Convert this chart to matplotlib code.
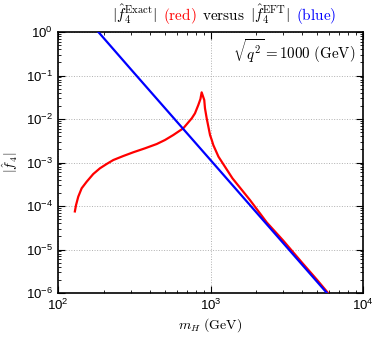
import numpy as np
import matplotlib
matplotlib.use("Agg")
import matplotlib.pyplot as plt
from matplotlib.offsetbox import TextArea, HPacker, AnchoredOffsetbox

plt.rcParams['font.family'] = ['Liberation Sans', 'DejaVu Sans']
plt.rcParams['mathtext.fontset'] = 'cm'

# Data
red_mH = [129, 131.3, 135.8, 142.9, 154.2, 170.3, 188.4, 208.4, 230.5, 268, 312, 372,
          444, 503, 570, 663, 754, 791, 832, 859, 875, 910, 920, 944, 993, 1019, 1043,
          1128, 1393, 1815, 2337, 3000, 4000, 5000, 5900]
red_f = [7.5e-5, 1.05e-4, 1.64e-4, 2.55e-4, 3.62e-4, 5.44e-4, 7.36e-4, 9.24e-4, 1.14e-3,
         1.41e-3, 1.72e-3, 2.12e-3, 2.66e-3, 3.29e-3, 4.28e-3, 6.11e-3, 1.04e-2, 1.35e-2,
         2.1e-2, 2.88e-2, 4.1e-2, 2.73e-2, 1.76e-2, 1.04e-2, 4.29e-3, 3.29e-3, 2.52e-3,
         1.36e-3, 4.33e-4, 1.37e-4, 4.2e-5, 1.6e-5, 4.9e-6, 2.0e-6, 1.0e-6]

blue_mH = [184, 300, 1000, 3000, 5800]
blue_f = [1.0, 1.40e-1, 1.14e-3, 1.40e-5, 1.0e-6]

fig = plt.figure(figsize=(3.74, 3.37), dpi=100)
ax = fig.add_axes([58/374, 1-293/337, 305/374, 261/337])

ax.plot(red_mH, red_f, color='#ff0000', lw=1.6, zorder=3, solid_joinstyle='round')
ax.plot(blue_mH, blue_f, color='#0000ff', lw=1.6, zorder=4)

ax.set_xscale('log')
ax.set_yscale('log')
ax.set_xlim(1e2, 1e4)
ax.set_ylim(1e-6, 1e0)

ax.grid(True, which='major', color='#b0b0b0', linestyle=':', lw=0.7)
ax.tick_params(which='both', direction='in', top=True, right=True, labelsize=9.5)
ax.tick_params(which='major', length=5, width=0.8)
ax.tick_params(which='minor', length=2.5, width=0.6)
ax.yaxis.set_major_locator(matplotlib.ticker.LogLocator(base=10, numticks=10))
ax.yaxis.set_minor_locator(matplotlib.ticker.LogLocator(base=10, subs=np.arange(2, 10), numticks=10))
for s in ax.spines.values():
    s.set_linewidth(1.2)

ax.set_xlabel(r"$m_H\ (\mathrm{GeV})$", fontsize=10, labelpad=2)
ax.set_ylabel(r"$|\hat{f}_4|$", fontsize=10, labelpad=4)

ax.text(0.975, 0.982, r"$\sqrt{q^2} = 1000\ (\mathrm{GeV})$", transform=ax.transAxes,
        ha='right', va='top', fontsize=10.8)

fs = 11
parts = [
    (r"$|\hat{f}_4^{\rm Exact}|$", 'black'),
    (r"$\mathrm{(red)}$", '#ff0000'),
    (r"$\mathrm{versus}$", 'black'),
    (r"$|\hat{f}_4^{\rm EFT}|$", 'black'),
    (r"$\mathrm{(blue)}$", '#0000ff'),
]
areas = [TextArea(t, textprops=dict(color=c, fontsize=fs)) for t, c in parts]
pack = HPacker(children=areas, align='baseline', pad=0, sep=4)
anch = AnchoredOffsetbox(loc='center', child=pack, pad=0, borderpad=0, frameon=False,
                         bbox_to_anchor=(224/374, 1-14/337), bbox_transform=fig.transFigure)
fig.add_artist(anch)

fig.savefig('out.png', dpi=100)
